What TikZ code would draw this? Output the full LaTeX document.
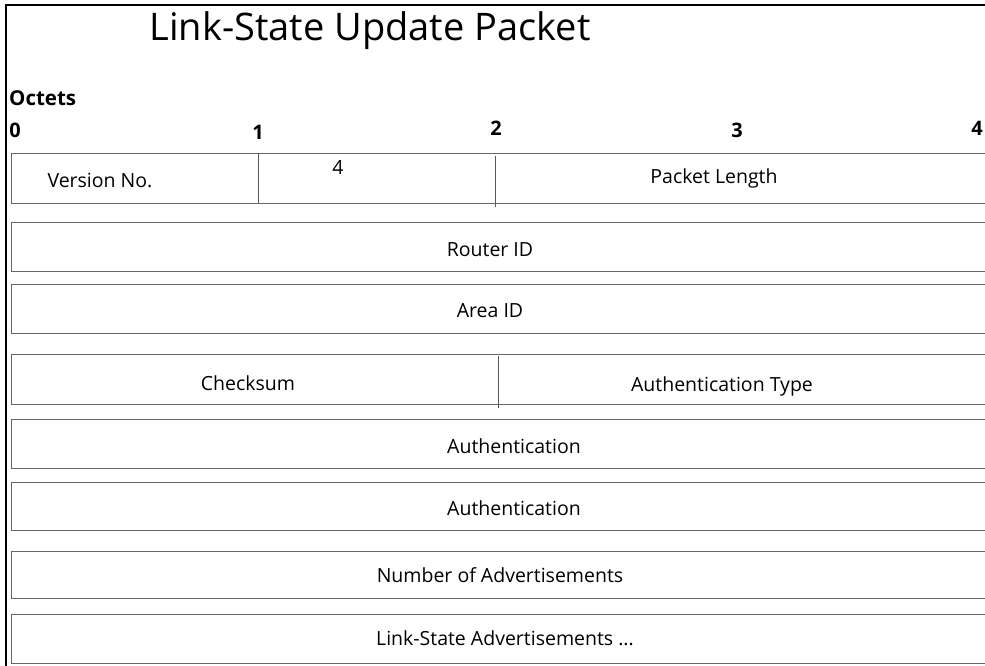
\documentclass[tikz,border=0pt]{standalone}
\usepackage{fontspec}
\setmainfont{Open Sans}
\begin{document}
\begin{tikzpicture}[x=1pt,y=-1pt,
  rowbox/.style={draw=gray!80!black, line width=1.1pt, inner sep=0pt, anchor=north west, minimum width=1100pt},
  divider/.style={draw=gray!70!black, line width=1pt},
  field/.style={font=\fontsize{19.5}{22}\selectfont, inner sep=0pt},
  octnum/.style={font=\fontsize{20}{22}\selectfont\bfseries, inner sep=0pt},
  frame/.style={draw=black, line width=2.4pt}]
\useasboundingbox (0,0) rectangle (985,666);
% outer frame
\coordinate (fb) at (6,670);
\coordinate (fc) at (6,5);
\coordinate (fr) at (990,5);
\draw[frame] (fb) -- (fc) -- (fr);
% title and scale
\node[font=\fontsize{38}{42}\selectfont, inner sep=0pt] (title) at (370,31) {Link-State Update Packet};
\node[font=\fontsize{20.5}{22}\selectfont\bfseries, inner sep=0pt, anchor=west] (octets) at (9,98) {Octets};
\node[octnum] (n0) at (15,130) {0};
\node[octnum] (n1) at (258,132) {1};
\node[octnum] (n2) at (496,128) {2};
\node[octnum] (n3) at (737,130) {3};
\node[octnum] (n4) at (977,128) {4};
% rows
\node[rowbox, minimum height=50pt] (r1) at (11,153) {};
\node[rowbox, minimum height=49pt] (r2) at (11,222) {};
\node[rowbox, minimum height=49pt] (r3) at (11,284) {};
\node[rowbox, minimum height=50pt] (r4) at (11,354) {};
\node[rowbox, minimum height=49pt] (r5) at (11,419) {};
\node[rowbox, minimum height=48pt] (r6) at (11,482) {};
\node[rowbox, minimum height=47pt] (r7) at (11,551) {};
\node[rowbox, minimum height=49pt] (r8) at (11,614) {};
% dividers
\coordinate (d1a) at (258,153); \coordinate (d1b) at (258,203);
\coordinate (d2a) at (495,156); \coordinate (d2b) at (495,207);
\coordinate (d3a) at (498,356); \coordinate (d3b) at (498,408);
\draw[divider] (d1a) -- (d1b);
\draw[divider] (d2a) -- (d2b);
\draw[divider] (d3a) -- (d3b);
% field texts
\node[field] (t1) at (100,180) {Version No.};
\node[field] (t2) at (338,168) {4};
\node[field] (t3) at (714,178) {Packet Length};
\node[field] (t4) at (490,250) {Router ID};
\node[field] (t5) at (490,311) {Area ID};
\node[field] (t6) at (248,383) {Checksum};
\node[field] (t7) at (722,386) {Authentication Type};
\node[field] (t8) at (514,446) {Authentication};
\node[field] (t9) at (514,508) {Authentication};
\node[field] (t10) at (500,575) {Number of Advertisements};
\node[field] (t11) at (505,638) {Link-State Advertisements ...};
\end{tikzpicture}
\end{document}
